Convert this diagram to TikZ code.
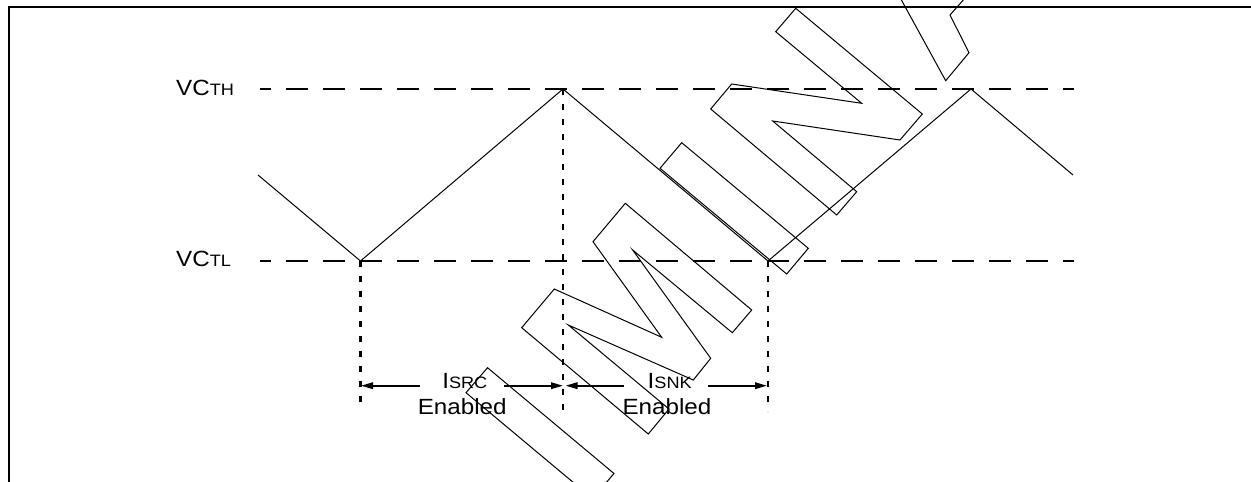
\documentclass[tikz,border=0pt]{standalone}
\usepackage{fontspec}
\setmainfont{Liberation Sans}[FakeStretch=1.1]
\usetikzlibrary{arrows.meta}
\newcommand{\smc}[1]{{\fontsize{16.5}{16.5}\selectfont #1}}
\begin{document}
\begin{tikzpicture}[x=1pt,y=-1pt,
  frameline/.style={line width=2.3pt},
  levelline/.style={line width=2.2pt, dash pattern=on 22pt off 15pt, dash phase=11pt},
  guideline/.style={line width=2.4pt, dash pattern=on 6pt off 9pt},
  wave/.style={line width=1pt},
  wmark/.style={line width=1pt, line join=miter},
  span/.style={line width=1.8pt, -{Triangle[length=12pt,width=6.5pt]}},
  lbl/.style={inner sep=0pt, anchor=base, font=\fontsize{22}{22}\selectfont},
  lvl/.style={inner sep=0pt, anchor=base west, font=\fontsize{22}{22}\selectfont}]
\useasboundingbox (0,0) rectangle (1251,482);
\begin{scope}
\clip (0,0) rectangle (1251,482);
% frame (top and left edges only visible)
\coordinate (fb) at (8.7,490);
\coordinate (fc) at (8.7,6.7);
\coordinate (fr) at (1260,6.7);
\draw[frameline] (fb) -- (fc) -- (fr);
% level lines
\coordinate (thl) at (260,89);
\coordinate (thr) at (1074,89);
\coordinate (tll) at (260,261);
\coordinate (tlr) at (1074,261);
\draw[levelline] (thl) -- (thr);
\draw[levelline] (tll) -- (tlr);
% wave
\coordinate (w0) at (258,175);
\coordinate (v1) at (360.5,261);
\coordinate (p1) at (563,89);
\coordinate (v2) at (768,261);
\coordinate (p2) at (971,89);
\coordinate (w5) at (1073,175);
\draw[wave] (w0) -- (v1) -- (p1) -- (v2) -- (p2) -- (w5);
% guides
\coordinate (g1) at (360.5,409);
\coordinate (g2) at (563,418);
\coordinate (g3) at (768,411);
\draw[guideline] (v1) -- (g1);
\draw[guideline] (p1) -- (g2);
\draw[guideline] (v2) -- (g3);
% labels
\node[lvl] (vcth) at (176,95.5) {VC\smc{TH}};
\node[lvl] (vctl) at (176,266) {VC\smc{TL}};
\node[lbl] (isrc) at (464.8,388) {I\smc{SRC}};
\node[lbl] (en1) at (462.2,414.5) {Enabled};
\node[lbl] (isnk) at (669.7,388) {I\smc{SNK}};
\node[lbl] (en2) at (667,414.5) {Enabled};
% span arrows
\coordinate (a1s) at (420,385.7);
\coordinate (a1e) at (361,385.7);
\coordinate (a2s) at (504,385.7);
\coordinate (a2e) at (563,385.7);
\coordinate (a3s) at (623.5,385.7);
\coordinate (a3e) at (565.5,385.7);
\coordinate (a4s) at (708,385.7);
\coordinate (a4e) at (767,385.7);
\draw[span] (a1s) -- (a1e);
\draw[span] (a2s) -- (a2e);
\draw[span] (a3s) -- (a3e);
\draw[span] (a4s) -- (a4e);
% watermark outlines
\draw[wmark] (487.5,367.7) -- (466,392.7) -- (592.5,498.5) -- (614,473.5) -- cycle;
\draw[wmark] (521.7,327.7) -- (554.3,289) -- (661.7,337.3) -- (593,241.7) -- (625.3,203.3)
  -- (751.7,310) -- (732.3,332.7) -- (632.7,250) -- (710.7,358.3) -- (693.3,380)
  -- (568.3,325) -- (669,409) -- (648.3,434) -- cycle;
\draw[wmark] (681.7,142.7) -- (660,168.3) -- (786.7,274) -- (808.3,248.3) -- cycle;
\draw[wmark] (710.7,109) -- (836.7,215) -- (856.7,191.7) -- (772.7,121) -- (900,140)
  -- (922.3,114) -- (795.7,8.3) -- (775.7,31.7) -- (861.7,103.3) -- (731.7,84) -- cycle;
\draw[wmark] (897,-8) -- (945.7,80.7) -- (969,52.7) -- (950,15) -- (970.5,-8.2);
\end{scope}
\end{tikzpicture}
\end{document}
